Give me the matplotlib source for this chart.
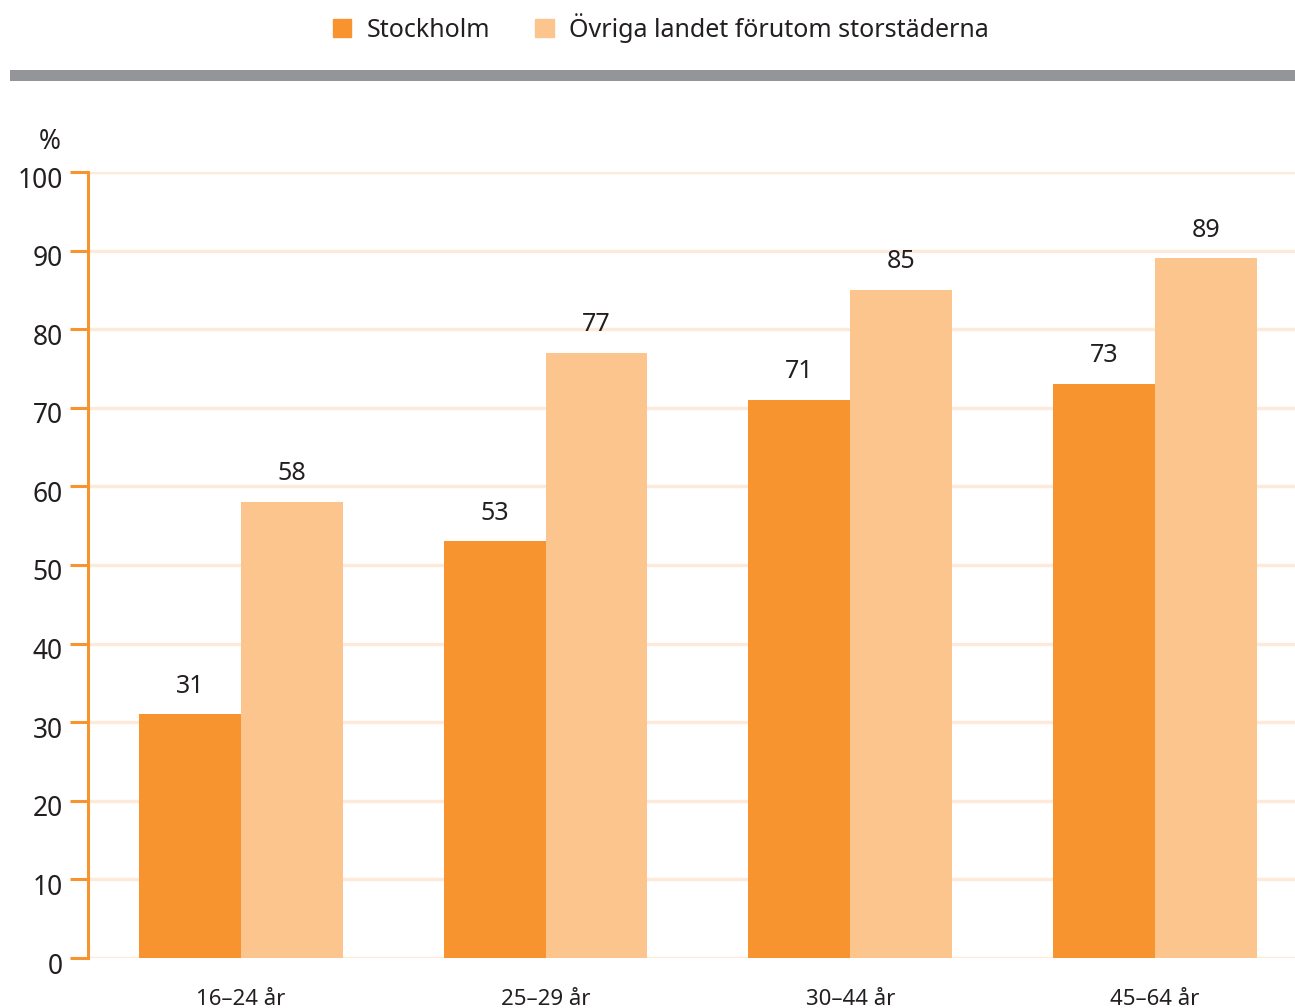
import numpy as np
import matplotlib.pyplot as plt
import matplotlib.transforms as mtransforms
from matplotlib.patches import Rectangle

categories = ['16–24 år', '25–29 år', '30–44 år', '45–64 år']
stockholm = [31, 53, 71, 73]
ovriga = [58, 77, 85, 89]
series_names = ['Stockholm', 'Övriga landet förutom storstäderna']
yticks = [0, 10, 20, 30, 40, 50, 60, 70, 80, 90, 100]

c_sthlm = '#f7942f'
c_ovr = '#fcc58e'
c_grid = '#fdeadb'
c_text = '#231f20'

plt.rcParams['font.family'] = ['Noto Sans', 'DejaVu Sans']

fig = plt.figure(figsize=(12.95, 10.08), dpi=100)
ax = fig.add_axes([88 / 1295, 50 / 1008, (1295 - 88) / 1295, (958 - 172) / 1008])

x = np.arange(len(categories))
w = 0.334
ax.bar(x - w / 2, stockholm, w, color=c_sthlm, zorder=3)
ax.bar(x + w / 2, ovriga, w, color=c_ovr, zorder=3)

for xi, v in zip(x, stockholm):
    ax.text(xi - w / 2, v + 2.0, str(v), ha='center', va='bottom', fontsize=18, color=c_text)
for xi, v in zip(x, ovriga):
    ax.text(xi + w / 2, v + 2.0, str(v), ha='center', va='bottom', fontsize=18, color=c_text)

ax.set_xlim(-0.502, 3.46)
ax.set_ylim(0, 100)
ax.set_yticks(yticks)
ax.set_yticklabels([str(t) for t in yticks], fontsize=19, color=c_text)
ax.set_xticks(x)
ax.set_xticklabels(categories, fontsize=16, color=c_text)
ax.tick_params(axis='x', length=0, pad=22)
ax.tick_params(axis='y', length=13, width=2.2, color=c_sthlm, pad=5, direction='out')
ax.yaxis.grid(True, color=c_grid, linewidth=2.5, zorder=0)
ax.set_axisbelow(True)
for s in ['top', 'right', 'bottom']:
    ax.spines[s].set_visible(False)
ax.spines['left'].set_color(c_sthlm)
ax.spines['left'].set_linewidth(2.2)
ax.spines['left'].set_bounds(0, 100)

# y tick labels sit a little below their gridline in the reference
offset = mtransforms.ScaledTranslation(0, -5 / 100, fig.dpi_scale_trans)
for lab in ax.get_yticklabels():
    lab.set_transform(lab.get_transform() + offset)

fig.text(50 / 1295, 1 - 142 / 1008, '%', ha='center', va='center', fontsize=19, color=c_text)

# gray rule under the legend
fig.add_artist(Rectangle((10 / 1295, 1 - 81 / 1008), 1285 / 1295, 11 / 1008,
                         transform=fig.transFigure, color='#939598', lw=0))

# legend
handles = [Rectangle((0, 0), 1, 1, color=c_sthlm), Rectangle((0, 0), 1, 1, color=c_ovr)]
fig.legend(handles, series_names, loc='center', bbox_to_anchor=(0.51, 1 - 28 / 1008),
           ncol=2, frameon=False, fontsize=18, handlelength=0.75, handleheight=0.75,
           handletextpad=0.6, columnspacing=1.8, labelcolor=c_text)

fig.savefig('out.png', dpi=100)
